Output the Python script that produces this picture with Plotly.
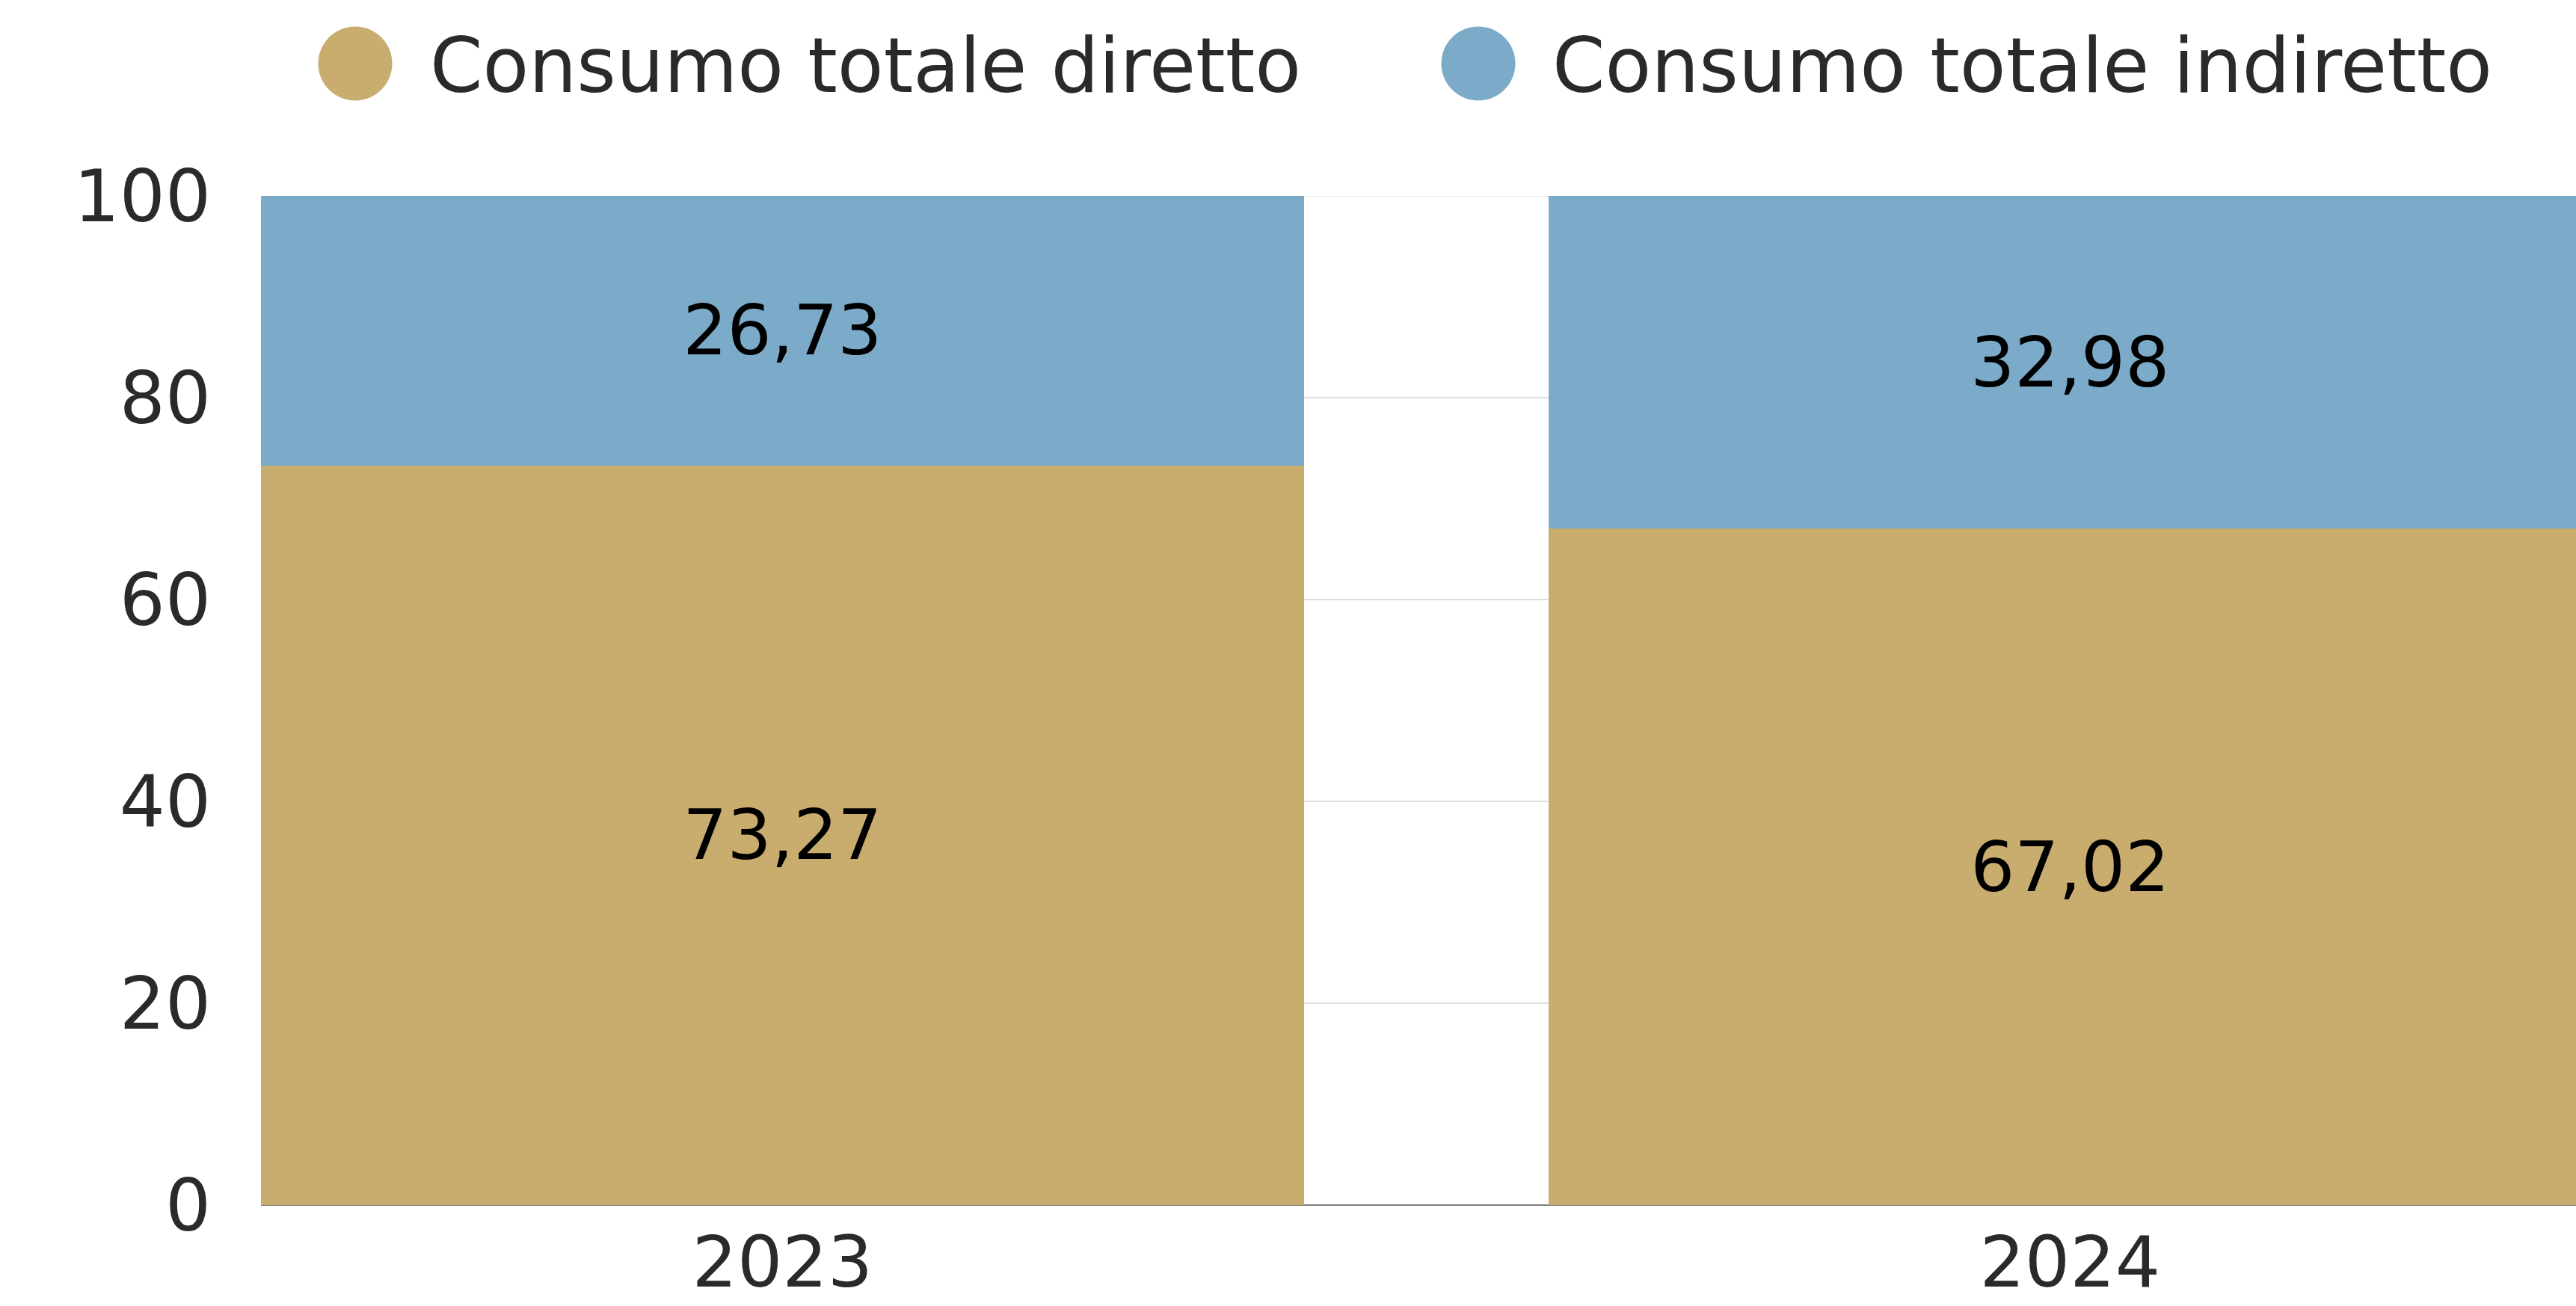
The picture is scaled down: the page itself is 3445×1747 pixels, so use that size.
import plotly.graph_objects as go

# Data
anni = ["2023", "2024"]
diretto = [73.27, 67.02]
indiretto = [26.73, 32.98]
serie_nomi = ["Consumo totale diretto", "Consumo totale indiretto"]
y_ticks = [0, 20, 40, 60, 80, 100]

# Style
W, H = 3445, 1747
M_L, M_R, M_T, M_B = 349, 0, 262, 135
ORO = "#C8AD6F"
AZZURRO = "#7BABC9"
TESTO = "#2A2A28"
FONT = "DejaVu Sans"

fig = go.Figure()
for nome, valori, colore in zip(serie_nomi, [diretto, indiretto], [ORO, AZZURRO]):
    fig.add_trace(go.Bar(
        x=anni, y=valori, name=nome,
        marker=dict(color=colore, line=dict(width=0)),
        texttemplate="%{y:.2f}",
        textposition="inside",
        insidetextanchor="middle",
        textangle=0,
        textfont=dict(family=FONT, size=93, color="#000000"),
        showlegend=False,
        hoverinfo="skip",
    ))

# Legend drawn as pixel-sized circles with labels
plot_w = W - M_L - M_R
plot_h = H - M_T - M_B


def px_x(px):
    return (px - M_L) / plot_w


def px_y(py):
    return (H - M_B - py) / plot_h


legend_items = [(475, 573, ORO, serie_nomi[0]), (1977, 2074, AZZURRO, serie_nomi[1])]
shapes = [
    # top grid line at 100, kept beneath the bars
    dict(type="line", xref="paper", yref="y", x0=0, x1=1, y0=100, y1=100,
         line=dict(color="#DEDEDE", width=1.5), layer="below"),
]
annotations = []
for cx, tx, colore, testo in legend_items:
    shapes.append(dict(
        type="circle", xref="paper", yref="paper",
        xsizemode="pixel", ysizemode="pixel",
        xanchor=px_x(cx), yanchor=px_y(85),
        x0=-49.5, x1=49.5, y0=-49.5, y1=49.5,
        fillcolor=colore, line=dict(width=0),
    ))
    annotations.append(dict(
        text=testo, xref="paper", yref="paper",
        x=px_x(tx), y=px_y(88), xanchor="left", yanchor="middle",
        showarrow=False, font=dict(family=FONT, size=101, color=TESTO),
    ))

fig.update_layout(
    width=W, height=H,
    margin=dict(l=M_L, r=M_R, t=M_T, b=M_B, pad=0, autoexpand=False),
    paper_bgcolor="white", plot_bgcolor="white",
    barmode="stack", bargap=0.19,
    separators=",.",
    font=dict(family=FONT, color=TESTO),
    shapes=shapes, annotations=annotations,
    uniformtext=dict(minsize=10, mode="show"),
)
fig.update_xaxes(
    type="category", range=[-0.405, 1.393], automargin=False,
    showgrid=False, showline=False, zeroline=False,
    tickfont=dict(family=FONT, size=95, color=TESTO),
    ticks="", ticklabelstandoff=13,
)
fig.update_yaxes(
    range=[0, 100], tickvals=y_ticks, automargin=False,
    showgrid=True, gridcolor="#DEDEDE", gridwidth=1.5,
    zeroline=True, zerolinecolor="#808080", zerolinewidth=1.5,
    showline=False,
    tickfont=dict(family=FONT, size=96, color=TESTO),
    ticks="", ticklabelstandoff=66,
)

fig.write_html("out.html")
